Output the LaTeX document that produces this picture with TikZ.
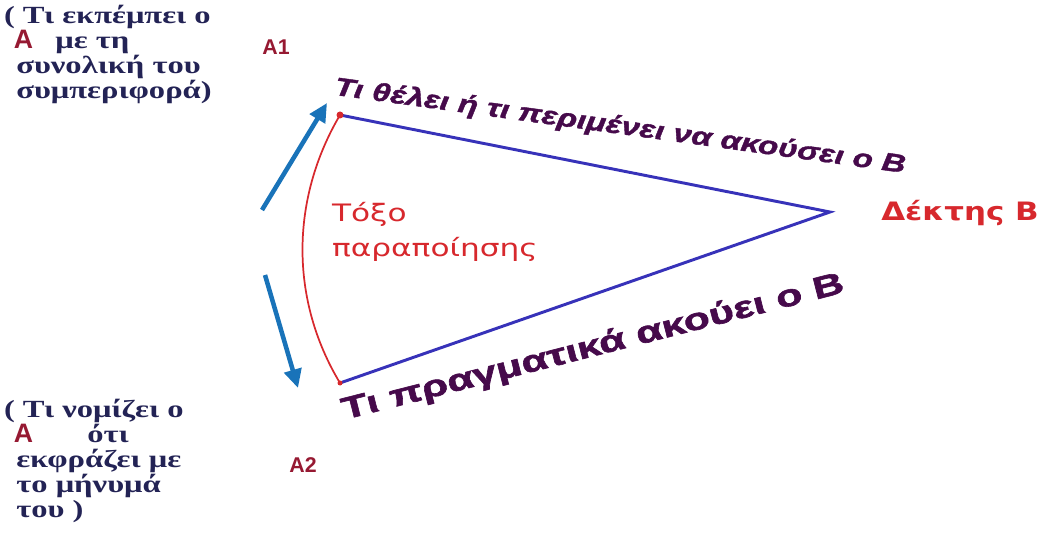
\documentclass[tikz,border=0pt]{standalone}
\usepackage{fontspec}
\setmainfont{Liberation Serif}
\setsansfont{Liberation Sans}
\newfontfamily\notefont{Liberation Serif}[FakeStretch=1.32]
\newfontfamily\linefont{Liberation Sans}[FakeStretch=1.3,FakeBold=1.6]
\newfontfamily\bottomfont{Liberation Sans}[FakeStretch=1.4,FakeBold=2]
\newfontfamily\widefont{DejaVu Sans}[FakeStretch=1.3]
\newfontfamily\titlefont{DejaVu Sans}[FakeStretch=1.22]
\usepackage{tikz}
\usetikzlibrary{arrows,arrows.meta}
\usepackage{xcolor}
\definecolor{lineblue}{RGB}{55,50,185}
\definecolor{arrowblue}{RGB}{25,115,185}
\definecolor{arcred}{RGB}{215,40,45}
\definecolor{darkred}{RGB}{150,25,50}
\definecolor{plum}{RGB}{70,10,75}
\definecolor{navy}{RGB}{35,35,85}

\begin{document}
\begin{tikzpicture}[x=0.75pt,y=-0.75pt,
  every node/.style={inner sep=0pt,outer sep=0pt},
  side/.style={line width=2.2pt,draw=lineblue},
  arcline/.style={line width=1.3pt,draw=arcred},
  move/.style={line width=3.4pt,draw=arrowblue,-{Triangle[length=14pt,width=13pt]}},
  note/.style={align=left,anchor=north west,font=\notefont\bfseries\fontsize{18.5}{18.7}\selectfont,text=navy},
  letter/.style={font=\sffamily\bfseries\fontsize{16}{16}\selectfont,text=darkred}]
\useasboundingbox (0,0) rectangle (1046,552);
\coordinate (A1) at (340,115);
\coordinate (A2) at (340,383);
\coordinate (B) at (830,212);
\coordinate (U1) at (262,210);
\coordinate (U2) at (327,103);
\coordinate (D1) at (265,275);
\coordinate (D2) at (298,388);

% triangle and arc
\path [side] (A1) -- (B) -- (A2);
\path [arcline] (A1) .. controls (290,200) and (290,300) .. (A2);
\fill [arcred] (A1) circle (3.5);
\fill [arcred] (A2) circle (2.5);
\draw [move] (U1) -- (U2);
\draw [move] (D1) -- (D2);

% labels
\node [letter] (a1) at (276,47) {A1};
\node [letter] (a2) at (303,465) {A2};
\node [font=\titlefont\bfseries\fontsize{19}{20}\selectfont,text=arcred] (dektis) at (960,213) {Δέκτης Β};
\node [align=left,anchor=west,font=\widefont\fontsize{18}{26}\selectfont,text=arcred] (toxo) at (332,232) {Τόξο\\παραποίησης};
\node [font=\linefont\bfseries\itshape\fontsize{19}{20}\selectfont,text=plum,rotate=-7.8] (want) at (620,127) {Τι θέλει ή τι περιμένει να ακούσει ο Β};
\node [font=\bottomfont\bfseries\fontsize{23}{24}\selectfont,text=plum,rotate=14.3] (hear) at (593,348) {Τι πραγματικά ακούει ο Β};

% left notes
\node [note] (send) at (4,5) {( Τι εκπέμπει ο\\
\hspace*{0.4em}{\sffamily\color{darkred}\fontsize{20}{18}\selectfont Α}\hspace*{0.9em}με τη\\
\hspace*{0.5em}συνολική του\\
\hspace*{0.5em}συμπεριφορά)};
\node [note] (think) at (4,399) {( Τι νομίζει ο\\
\hspace*{0.4em}{\sffamily\color{darkred}\fontsize{20}{18}\selectfont Α}\hspace*{2.2em}ότι\\
\hspace*{0.5em}εκφράζει με\\
\hspace*{0.5em}το μήνυμά\\
\hspace*{0.5em}του )};
\end{tikzpicture}
\end{document}
